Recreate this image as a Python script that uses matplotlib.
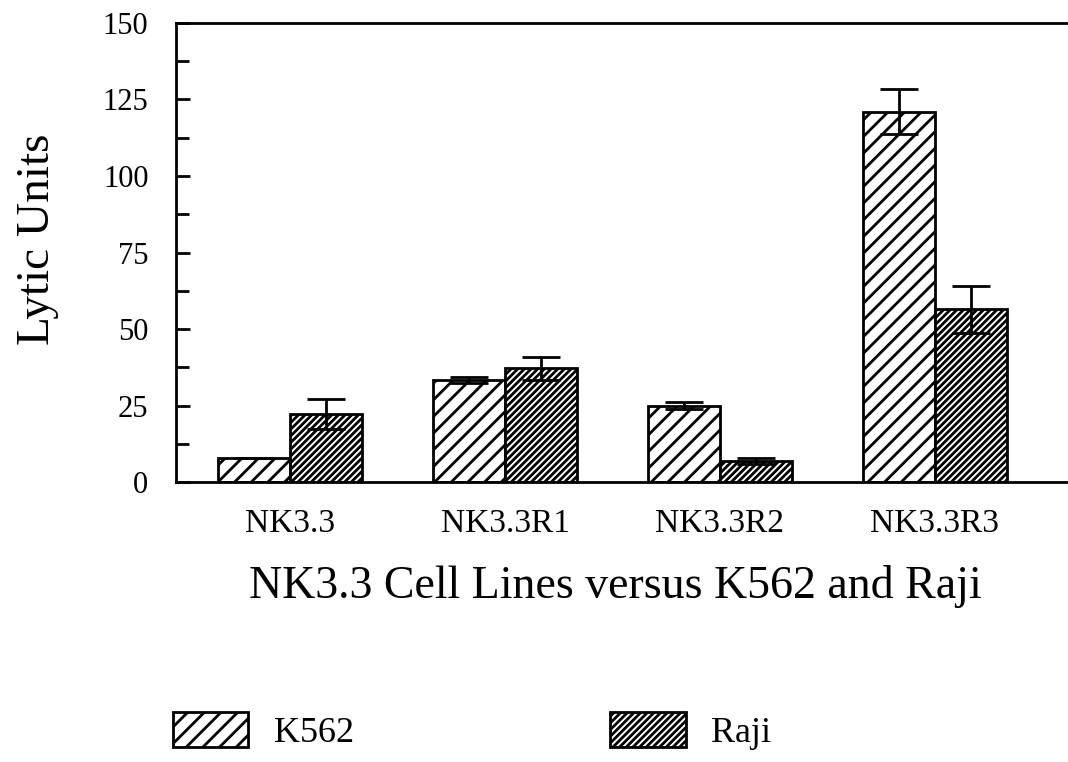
import numpy as np
import matplotlib.pyplot as plt
from matplotlib.patches import Patch
from matplotlib.ticker import MultipleLocator

cell_lines = ["NK3.3", "NK3.3R1", "NK3.3R2", "NK3.3R3"]
k562 = [8, 33.5, 25, 121]
k562_err = [0, 1, 1.2, 7.3]
raji = [22.3, 37.2, 7, 56.5]
raji_err = [5, 3.7, 1, 7.6]

plt.rcParams["font.family"] = ["Liberation Serif", "DejaVu Serif"]
plt.rcParams["hatch.linewidth"] = 2.0

fig = plt.figure(figsize=(10.68, 7.62), dpi=100)
ax = fig.add_axes([0.165, 0.367, 0.835, 0.603])

x = np.arange(len(cell_lines))
w = 0.335

err_kw = dict(ecolor="black", elinewidth=2, capsize=14, capthick=2)
ax.bar(x - w / 2, k562, w, yerr=k562_err, color="white", edgecolor="black",
       linewidth=2, hatch="//", error_kw=err_kw, label="K562")
ax.bar(x + w / 2, raji, w, yerr=raji_err, color="white", edgecolor="black",
       linewidth=2, hatch="/////", error_kw=err_kw, label="Raji")

ax.set_xlim(-0.53, 3.62)
ax.set_ylim(0, 150)
ax.yaxis.set_major_locator(MultipleLocator(25))
ax.yaxis.set_minor_locator(MultipleLocator(12.5))
ax.tick_params(axis="y", which="major", direction="in", length=10, width=2,
               labelsize=22, pad=20)
ax.tick_params(axis="y", which="minor", direction="in", length=9, width=2)
ax.tick_params(axis="x", length=0, labelsize=24, pad=19)
ax.set_xticks(x)
ax.set_xticklabels(cell_lines)

for s in ["left", "top", "bottom"]:
    ax.spines[s].set_linewidth(2)
ax.spines["right"].set_visible(False)

ax.set_ylabel("Lytic Units", fontsize=34)
ax.yaxis.set_label_coords(-0.131, 0.53)
ax.set_xlabel("NK3.3 Cell Lines versus K562 and Raji", fontsize=33)
ax.xaxis.set_label_coords(0.493, -0.18)

handles = [Patch(facecolor="white", edgecolor="black", linewidth=2, hatch="//", label="K562"),
           Patch(facecolor="white", edgecolor="black", linewidth=2, hatch="/////", label="Raji")]
fig.legend(handles=handles, loc="center left", bbox_to_anchor=(0.148, 0.041), ncol=2,
           frameon=False, fontsize=26, columnspacing=7.1, handlelength=2.1,
           handleheight=1.14, handletextpad=0.7, borderaxespad=0)

fig.savefig("out.png", dpi=100)
